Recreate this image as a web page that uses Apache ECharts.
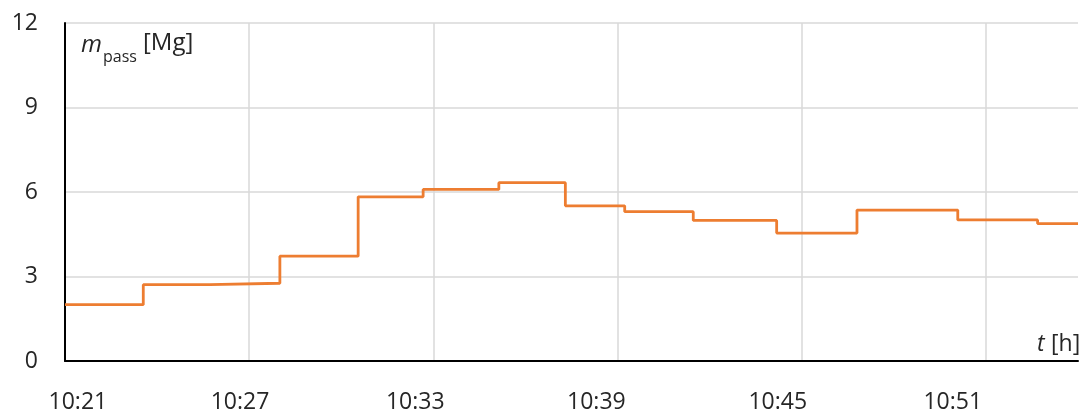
<!DOCTYPE html>
<html>
<head>
<meta charset="utf-8">
<script src="https://cdn.jsdelivr.net/npm/echarts@6/dist/echarts.min.js"></script>
<style>
  html, body { margin: 0; padding: 0; background: #ffffff; }
  #chart { width: 1087px; height: 416px; }
</style>
</head>
<body>
<div id="chart"></div>
<script>
// ---- data ----
// times at which each mass level starts (last entry = end of record)
const stepTimes = ['10:21:00', '10:23:33', '10:25:43', '10:28:00', '10:30:33', '10:32:40', '10:35:08',
                   '10:37:18', '10:39:14', '10:41:28', '10:44:11', '10:46:48', '10:50:05', '10:52:41', '10:54:00'];
const massValues = [2.00, 2.71, 2.76, 3.72, 5.83, 6.09, 6.33, 5.51, 5.30, 4.99, 4.54, 5.36, 5.01, 4.88, 4.88];
const xTickLabels = ['10:21', '10:27', '10:33', '10:39', '10:45', '10:51'];
const yTickLabels = ['0', '3', '6', '9', '12'];
// label anchor positions along the time axis (minutes after 10:21), as drawn in the reference
const xLabelAnchors = [0.42, 5.70, 11.41, 17.31, 23.22, 28.92];

const startTime = '10:21:00';
function toMinutes(s) {
  const p = s.split(':').map(Number);
  return p[0] * 60 + p[1] + (p[2] || 0) / 60;
}
const t0 = toMinutes(startTime);
const seriesData = stepTimes.map((t, i) => [toMinutes(t) - t0, massValues[i]]);

const FONT = '"Open Sans", "Noto Sans", sans-serif';
const TXT = '#262626';

const chart = echarts.init(document.getElementById('chart'), null, { renderer: 'canvas' });
chart.setOption({
  animation: false,
  backgroundColor: '#ffffff',
  grid: { left: 65, right: 9, top: 23, bottom: 55, containLabel: false },
  xAxis: [
    {
      type: 'value', min: 0, max: 33, interval: 6,
      axisLine: { show: true, onZero: false, lineStyle: { color: '#000000', width: 2 } },
      axisTick: { show: false },
      axisLabel: { show: false },
      splitLine: { show: true, showMinLine: false, showMaxLine: false, lineStyle: { color: '#d9d9d9', width: 1.5 } }
    },
    {
      type: 'value', min: 0, max: 33, position: 'bottom',
      axisLine: { show: false },
      axisTick: { show: false },
      splitLine: { show: false },
      axisLabel: {
        show: true,
        customValues: xLabelAnchors,
        margin: 30,
        color: TXT, fontFamily: FONT, fontSize: 23,
        formatter: function (v) {
          let best = 0, bd = 1e9;
          xLabelAnchors.forEach((a, i) => { const d = Math.abs(a - v); if (d < bd) { bd = d; best = i; } });
          return xTickLabels[best];
        }
      }
    }
  ],
  yAxis: {
    type: 'value', min: 0, max: 12, interval: 3,
    axisLine: { show: true, lineStyle: { color: '#000000', width: 2 } },
    axisTick: { show: false },
    splitLine: { show: true, lineStyle: { color: '#d9d9d9', width: 1.5 } },
    axisLabel: {
      margin: 27, color: TXT, fontFamily: FONT, fontSize: 23,
      formatter: function (v) { return yTickLabels[Math.round(v / 3)]; }
    }
  },
  graphic: [
    { type: 'text', left: 81, top: 33, style: { text: 'm', font: 'italic 24px ' + FONT, fill: TXT } },
    { type: 'text', left: 103, top: 49, style: { text: 'pass', font: '16px ' + FONT, fill: TXT } },
    { type: 'text', left: 143, top: 31, style: { text: '[Mg]', font: '24px ' + FONT, fill: TXT } },
    { type: 'text', left: 1037, top: 333, style: { text: 't', font: 'italic 23px ' + FONT, fill: TXT } },
    { type: 'text', left: 1051, top: 333, style: { text: '[h]', font: '23px ' + FONT, fill: TXT } }
  ],
  series: [{
    type: 'line',
    xAxisIndex: 0,
    step: 'end',
    data: seriesData,
    showSymbol: false,
    lineStyle: { color: '#ED7D31', width: 2.8 },
    itemStyle: { color: '#ED7D31' }
  }]
});
</script>
</body>
</html>
